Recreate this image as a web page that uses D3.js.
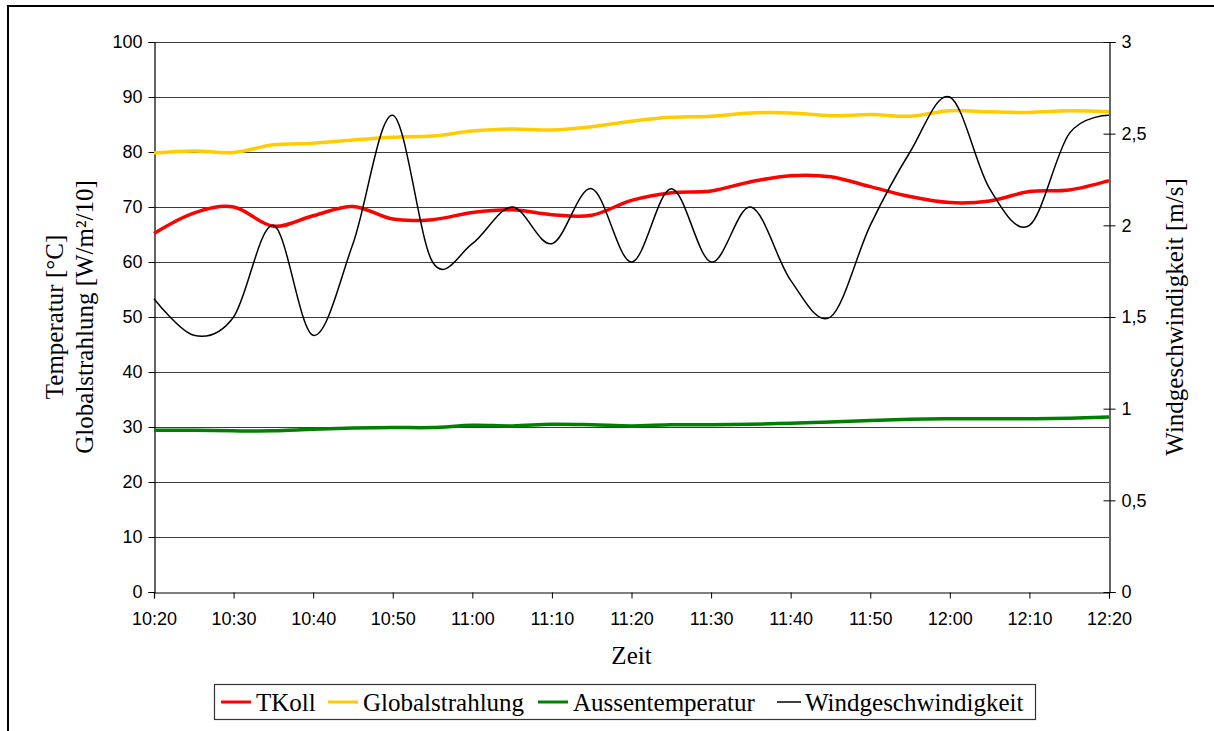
<!DOCTYPE html>
<html>
<head>
<meta charset="utf-8">
<script src="https://cdn.jsdelivr.net/npm/d3@7"></script>
<style>
  body { margin: 0; background: #fff; }
  svg { display: block; }
  .tick text { font-family: "Liberation Sans", Arial, sans-serif; font-size: 18px; fill: #000; }
  .ttl { font-family: "Liberation Serif", "Times New Roman", serif; font-size: 25px; fill: #000; }
</style>
</head>
<body>
<div id="chart"></div>
<script>
// Zeitpunkte (alle 5 Minuten)
var zeit = ["10:20","10:25","10:30","10:35","10:40","10:45","10:50","10:55",
            "11:00","11:05","11:10","11:15","11:20","11:25","11:30","11:35",
            "11:40","11:45","11:50","11:55","12:00","12:05","12:10","12:15","12:20"];

var tKoll = [65.2, 68.9, 70.0, 66.5, 68.4, 70.1, 67.8, 67.7,
             69.0, 69.5, 68.6, 68.5, 71.2, 72.6, 72.9, 74.6,
             75.7, 75.5, 73.7, 71.9, 70.8, 71.1, 72.8, 73.1, 74.8];

var globalstrahlung = [79.8, 80.2, 79.9, 81.3, 81.6, 82.2, 82.7, 82.9,
                       83.8, 84.2, 84.0, 84.6, 85.6, 86.3, 86.5, 87.1,
                       87.1, 86.6, 86.8, 86.5, 87.5, 87.3, 87.2, 87.5, 87.3];

var aussentemperatur = [29.4, 29.4, 29.3, 29.3, 29.6, 29.8, 29.9, 29.9,
                        30.3, 30.2, 30.5, 30.4, 30.2, 30.4, 30.4, 30.5,
                        30.7, 30.9, 31.2, 31.4, 31.5, 31.5, 31.5, 31.6, 31.8];

var windgeschwindigkeit = [1.6, 1.4, 1.5, 2.0, 1.4, 1.9, 2.6, 1.8,
                           1.9, 2.1, 1.9, 2.2, 1.8, 2.2, 1.8, 2.1,
                           1.7, 1.5, 2.0, 2.4, 2.7, 2.2, 2.0, 2.5, 2.6];

var xTicks = ["10:20","10:30","10:40","10:50","11:00","11:10","11:20",
              "11:30","11:40","11:50","12:00","12:10","12:20"];
var yLeftTicks = [0,10,20,30,40,50,60,70,80,90,100];
var yRightTicks = [0,0.5,1,1.5,2,2.5,3];

var width = 1214,
    height = 731;
var pLeft = 154, pRight = 1109, pTop = 42, pBottom = 592;

var parse = d3.timeParse("%H:%M");
var fmt = d3.timeFormat("%H:%M");

var x = d3.scaleTime()
    .domain([parse(zeit[0]), parse(zeit[zeit.length - 1])])
    .range([pLeft, pRight]);

var yL = d3.scaleLinear().domain([0, 100]).range([pBottom, pTop]);
var yR = d3.scaleLinear().domain([0, 3]).range([pBottom, pTop]);

var svg = d3.select("#chart")
    .append("svg")
    .attr("width", width)
    .attr("height", height);

// Rahmen
svg.append("rect")
    .attr("x", 8).attr("y", 6)
    .attr("width", 1240).attr("height", 760)
    .attr("fill", "none").attr("stroke", "#000").attr("stroke-width", 2);

// Gitterlinien
svg.append("g")
    .selectAll("line")
    .data(yLeftTicks.filter(function(d) { return d > 0; }))
    .enter().append("line")
    .attr("x1", pLeft).attr("x2", pRight)
    .attr("y1", function(d) { return yL(d) + 0.5; })
    .attr("y2", function(d) { return yL(d) + 0.5; })
    .attr("stroke", "#3a3a3a")
    .attr("stroke-width", 1);

// Achsen
svg.append("g")
    .attr("transform", "translate(0," + (pBottom + 0.5) + ")")
    .call(d3.axisBottom(x)
        .tickValues(xTicks.map(parse))
        .tickFormat(fmt)
        .tickSizeOuter(0)
        .tickSize(6)
        .tickPadding(14));

svg.append("g")
    .attr("transform", "translate(" + (pLeft + 0.5) + ",0)")
    .call(d3.axisLeft(yL)
        .tickValues(yLeftTicks)
        .tickSizeOuter(0)
        .tickSize(6)
        .tickPadding(6));

var gr = svg.append("g")
    .attr("transform", "translate(" + (pRight + 0.5) + ",0)")
    .call(d3.axisRight(yR)
        .tickValues(yRightTicks)
        .tickFormat(function(d) { return String(d).replace(".", ","); })
        .tickSizeOuter(0)
        .tickSize(6)
        .tickPadding(6));
gr.selectAll(".tick line").attr("x1", -6);

svg.selectAll(".domain").attr("stroke", "#000").attr("stroke-width", 1.2);
svg.selectAll(".tick line").attr("stroke", "#000");

// Linien
function lineFor(vals, scale) {
    return d3.line()
        .x(function(d, i) { return x(parse(zeit[i])); })
        .y(function(d) { return scale(d); })
        .curve(d3.curveCardinal)(vals);
}

var series = [
    { name: "Aussentemperatur", values: aussentemperatur, scale: yL, color: "#008000", w: 3.5 },
    { name: "Globalstrahlung", values: globalstrahlung, scale: yL, color: "#FFCC00", w: 3.5 },
    { name: "TKoll", values: tKoll, scale: yL, color: "#FF0000", w: 3.5 },
    { name: "Windgeschwindigkeit", values: windgeschwindigkeit, scale: yR, color: "#000000", w: 1.5 }
];

svg.append("g")
    .selectAll("path")
    .data(series)
    .enter().append("path")
    .attr("d", function(s) { return lineFor(s.values, s.scale); })
    .attr("fill", "none")
    .attr("stroke", function(s) { return s.color; })
    .attr("stroke-width", function(s) { return s.w; })
    .attr("stroke-linejoin", "round");

// Achsentitel
var midY = (pTop + pBottom) / 2;
svg.append("text").attr("class", "ttl")
    .attr("transform", "translate(63," + midY + ") rotate(-90)")
    .attr("text-anchor", "middle")
    .text("Temperatur [°C]");
svg.append("text").attr("class", "ttl")
    .attr("transform", "translate(93," + midY + ") rotate(-90)")
    .attr("text-anchor", "middle")
    .text("Globalstrahlung [W/m²/10]");
svg.append("text").attr("class", "ttl")
    .attr("transform", "translate(1183," + midY + ") rotate(-90)")
    .attr("text-anchor", "middle")
    .text("Windgeschwindigkeit [m/s]");
svg.append("text").attr("class", "ttl")
    .attr("x", (pLeft + pRight) / 2).attr("y", 664)
    .attr("text-anchor", "middle")
    .text("Zeit");

// Legende
var legendOrder = ["TKoll", "Globalstrahlung", "Aussentemperatur", "Windgeschwindigkeit"];
var legendX = [221, 328, 538, 777];

svg.append("rect")
    .attr("x", 214.5).attr("y", 684.5)
    .attr("width", 821).attr("height", 35)
    .attr("fill", "#fff").attr("stroke", "#333").attr("stroke-width", 1.2);

var lg = svg.append("g")
    .selectAll("g")
    .data(legendOrder)
    .enter().append("g")
    .attr("transform", function(d, i) { return "translate(" + legendX[i] + ",0)"; });

lg.append("line")
    .attr("x1", 0).attr("x2", function(d) { return d === "Windgeschwindigkeit" ? 24 : 30; })
    .attr("y1", 702).attr("y2", 702)
    .attr("stroke", function(d) { return series.find(function(s) { return s.name === d; }).color; })
    .attr("stroke-width", function(d) { return d === "Windgeschwindigkeit" ? 1.5 : 3; });

lg.append("text").attr("class", "ttl")
    .attr("x", function(d) { return d === "Windgeschwindigkeit" ? 28 : 35; })
    .attr("y", 711)
    .text(function(d) { return d; });
</script>
</body>
</html>
